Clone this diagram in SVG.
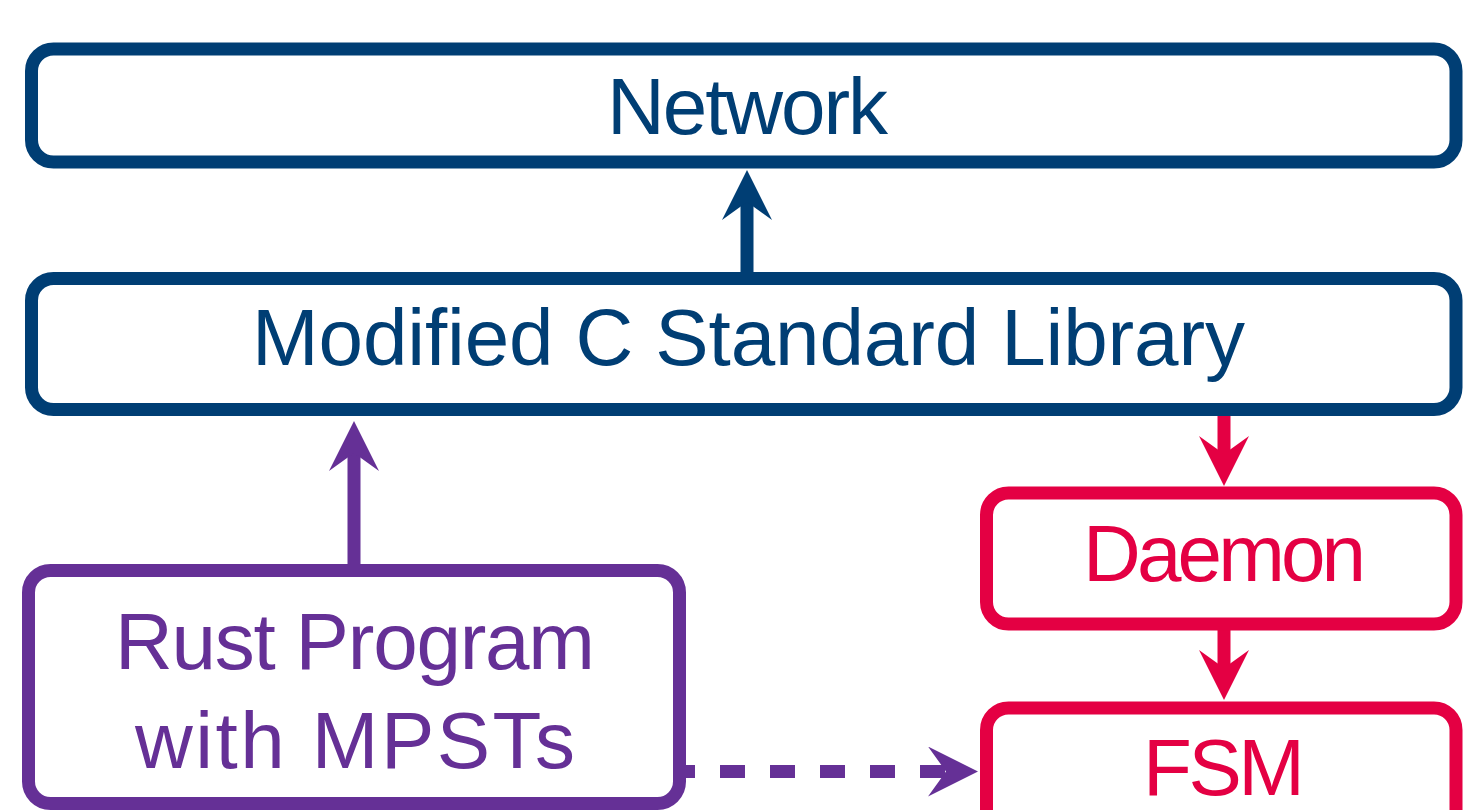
<svg xmlns="http://www.w3.org/2000/svg" width="1463" height="810" viewBox="0 0 1463 810">
  <style>
    .box { fill: #ffffff; stroke-width: 13; }
    .navy { stroke: #003E74; }
    .purple { stroke: #653096; }
    .red { stroke: #E40043; }
    .lbl { font-family: "Liberation Sans", Arial, sans-serif; font-size: 80px; text-anchor: middle; }
    .tnavy { fill: #003E74; }
    .tpurple { fill: #653096; }
    .tred { fill: #E40043; }
    .conn { fill: none; stroke-width: 13; }
  </style>
  <defs>
    <marker id="headNavy" markerUnits="userSpaceOnUse" viewBox="0 0 50 50" markerWidth="50" markerHeight="50" refX="18" refY="25" orient="auto">
      <path d="M0,0 L50,25 L0,50 L18,25 Z" fill="#003E74"/>
    </marker>
    <marker id="headPurple" markerUnits="userSpaceOnUse" viewBox="0 0 50 50" markerWidth="50" markerHeight="50" refX="18" refY="25" orient="auto">
      <path d="M0,0 L50,25 L0,50 L18,25 Z" fill="#653096"/>
    </marker>
    <marker id="headRed" markerUnits="userSpaceOnUse" viewBox="0 0 50 50" markerWidth="50" markerHeight="50" refX="18" refY="25" orient="auto">
      <path d="M0,0 L50,25 L0,50 L18,25 Z" fill="#E40043"/>
    </marker>
  </defs>
  <rect width="1463" height="810" fill="#ffffff"/>

  <g id="connectors">
    <line class="conn navy" x1="747" y1="276" x2="747" y2="202" marker-end="url(#headNavy)"/>
    <line class="conn purple" x1="354" y1="568" x2="354" y2="453" marker-end="url(#headPurple)"/>
    <line class="conn red" x1="1224" y1="412" x2="1224" y2="454" marker-end="url(#headRed)"/>
    <line class="conn red" x1="1224" y1="626" x2="1224" y2="668" marker-end="url(#headRed)"/>
    <line class="conn purple" x1="670" y1="771.5" x2="946" y2="771.5" stroke-dasharray="25 25" marker-end="url(#headPurple)"/>
  </g>

  <g id="network">
    <rect class="box navy" x="31.5" y="49" width="1424.5" height="113" rx="22" ry="22"/>
    <text class="lbl tnavy" x="747.5" y="134" textLength="281">Network</text>
  </g>

  <g id="libc">
    <rect class="box navy" x="31.5" y="278.5" width="1424.5" height="131" rx="22" ry="22"/>
    <text class="lbl tnavy" x="748.5" y="365" textLength="993">Modified C Standard Library</text>
  </g>

  <g id="daemon">
    <rect class="box red" x="986.5" y="493" width="469.5" height="131" rx="22" ry="22"/>
    <text class="lbl tred" x="1224.5" y="581" textLength="283">Daemon</text>
  </g>

  <g id="fsm">
    <rect class="box red" x="986.5" y="708" width="469.5" height="160" rx="22" ry="22"/>
    <text class="lbl tred" x="1224" y="795" textLength="162">FSM</text>
  </g>

  <g id="rust">
    <rect class="box purple" x="28.5" y="570.5" width="651" height="233" rx="22" ry="22"/>
    <text class="lbl tpurple" x="355" y="669" textLength="480">Rust Program</text>
    <text class="lbl tpurple" x="355" y="768" textLength="440">with MPSTs</text>
  </g>
</svg>
